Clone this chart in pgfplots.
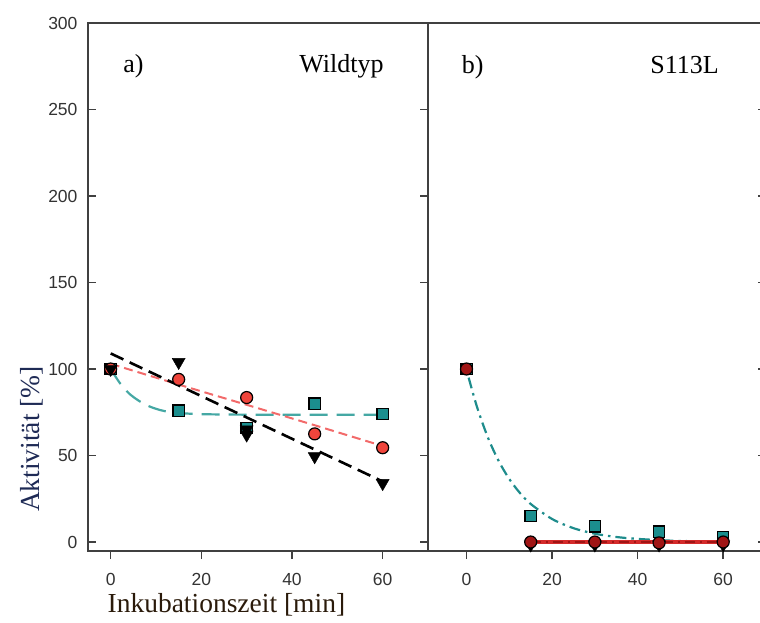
\documentclass[border=0pt]{standalone}
\usepackage{fontspec}
\setmainfont{Liberation Serif}
\newfontfamily\arial{Liberation Sans}
\usepackage{pgfplots}
\pgfplotsset{compat=1.18}

\definecolor{tealM}{HTML}{1B8E8E}
\definecolor{tealL}{HTML}{45A8A4}
\definecolor{tealD}{HTML}{1E8C8C}
\definecolor{redM}{HTML}{F0453C}
\definecolor{redL}{HTML}{F26A6A}
\definecolor{redD}{HTML}{A01515}
\definecolor{redR}{HTML}{D42A2A}
\definecolor{ylab}{HTML}{1E2A55}
\definecolor{xlab}{HTML}{2A1A0A}

\newcommand{\serifbig}{\fontsize{27.5}{30}\selectfont}
\newcommand{\panelfont}{\fontsize{26}{28}\selectfont}

\pgfplotsset{
  panel/.style={
    scale only axis,
    height=528pt,
    ymin=-5.2, ymax=300,
    ytick={0,50,100,150,200,250,300},
    xtick={0,20,40,60},
    xtick pos=left,
    xtick align=outside,
    ytick align=inside,
    major tick length=8pt,
    axis line style={draw=black!75, line width=2pt},
    tick style={draw=black!75, line width=1.5pt},
    /pgf/number format/assume math mode=true,
    ticklabel style={font=\arial\fontsize{17.5}{18}\selectfont, text=black!80},
    xticklabel style={yshift=-11pt},
    clip=false,
  },
  sq/.style={only marks, mark=square*, mark size=5.6pt,
    mark options={fill=tealM, draw=black, line width=1.2pt}},
  circ/.style={only marks, mark=*, mark size=6pt,
    mark options={fill=#1, draw=black, line width=1.2pt}},
  tri/.style={only marks, mark=triangle*, mark size=7.5pt,
    mark options={rotate=180, fill=black, draw=black}},
}

\begin{document}
\begin{tikzpicture}
\path[use as bounding box] (0pt,0pt) rectangle (760pt,622pt);
\clip (0pt,0pt) rectangle (760pt,622pt);

% a) Wildtyp
\begin{axis}[panel,
  at={(88pt,71pt)}, anchor=south west,
  width=340pt,
  xmin=-5, xmax=70,
  ytick pos=both,
  yticklabel style={xshift=-7pt},
  xlabel={Inkubationszeit [min]},
  xlabel style={at={(axis description cs:0.407,-0.1174)}, anchor=base,
    font=\serifbig, text=xlab},
  ylabel={Aktivität [\%]},
  ylabel style={at={(axis description cs:-0.144,0.212)}, anchor=base,
    font=\serifbig, text=ylab},
]
\addplot[tealL, line width=2.2pt, dash pattern=on 18pt off 9pt, smooth]
  coordinates {(0,100) (2,92) (4,86) (6,82) (8,79) (10,77) (12,75.6)
               (15,74.6) (20,73.9) (30,73.6) (45,73.6) (60,73.6)};
\addplot[redL, line width=2pt, dash pattern=on 9pt off 5pt]
  coordinates {(0,103) (15,91) (30,79.3) (45,67.5) (60,55.5)};
\addplot[black, line width=2.6pt, dash pattern=on 14pt off 7pt]
  coordinates {(0,109) (60,35)};

\addplot[sq] coordinates {(0,100) (15,76) (30,66) (45,80) (60,74)};
\addplot[circ=redM] coordinates {(0,100) (15,94) (30,83.5) (45,62.5) (60,54.5)};
\addplot[tri] coordinates {(0,100) (15,104) (30,62) (30,65) (45,49.5) (60,34)};

\node[anchor=base west, font=\panelfont] at (axis cs:2,271.5) {a)};
\node[anchor=base east, font=\panelfont] at (axis cs:61,271.5) {Wildtyp};
\end{axis}

% b) S113L
\begin{axis}[panel,
  at={(428pt,71pt)}, anchor=south west,
  width=338pt,
  xmin=-9, xmax=70,
  ytick pos=right,
  yticklabels={},
]
\addplot[tealD, line width=2.2pt, dash pattern=on 11pt off 5pt on 2.5pt off 5pt, smooth]
  coordinates {(0.5,95) (2.5,77.7) (5,60.4) (7.5,46.9) (10,36.4) (12.5,28.3)
               (15,22) (20,13.3) (25,8) (30,4.8) (35,2.9) (40,1.8) (45,1.1)
               (50,0.6) (60,0.2)};
\addplot[redR, line width=3.2pt] coordinates {(15,0) (60,0)};
\addplot[redD, line width=1.6pt, dash pattern=on 10pt off 5pt on 2pt off 5pt]
  coordinates {(15,0) (60,0)};

\addplot[sq] coordinates {(0,100) (15,15) (30,9) (45,6) (60,3)};
\addplot[tri] coordinates {(15,-1.5) (30,-1.5) (45,-1.5) (60,-1.5)};
\addplot[circ=redD] coordinates {(0,100) (15,0) (30,0) (45,-0.5) (60,0)};

\node[anchor=base west, font=\panelfont] at (axis cs:-1.9,271) {b)};
\node[anchor=base east, font=\panelfont] at (axis cs:59.8,271) {S113L};
\end{axis}
\end{tikzpicture}
\end{document}
